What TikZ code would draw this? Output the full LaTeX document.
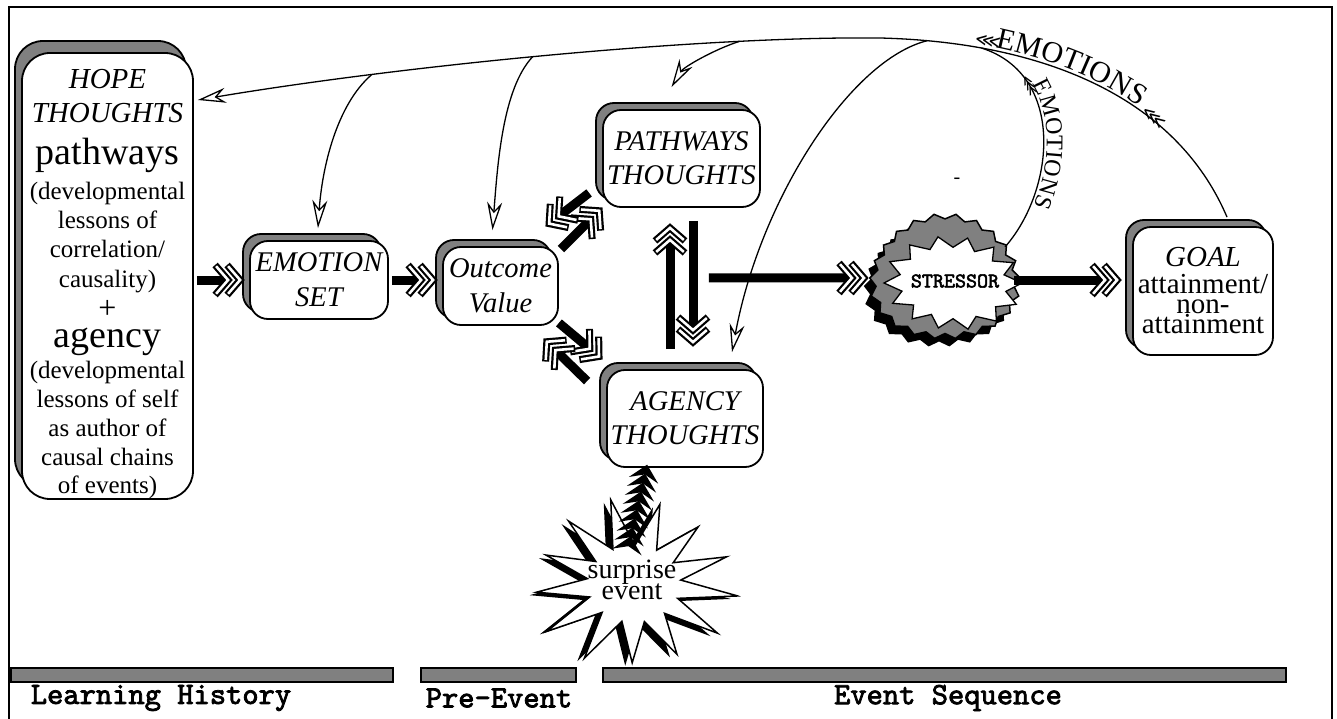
\documentclass[tikz,border=0pt]{standalone}
\usepackage{fontspec}
\usepackage{graphicx}
\setmainfont{Liberation Serif}
\newfontfamily\courb{lmmono10-regular.otf}[FakeBold=2.5]
\newfontfamily\dejavu{DejaVu Sans}
\usetikzlibrary{arrows.meta,shadows,decorations.text,decorations.markings,calc}
\definecolor{shadowgray}{RGB}{128,128,128}
\newcommand\fsz[2]{\fontsize{#1}{#2}\selectfont}
\newcommand\fathead{%
  \foreach \dx in {-16,-4}{%
    \draw[line width=7pt, black, shorten >=0pt, line join=miter, line cap=butt]
      ([xshift=\dx pt]-13pt,-15pt) -- ([xshift=\dx pt]0pt,0pt) -- ([xshift=\dx pt]-13pt,15pt);
    \draw[line width=2.6pt, white, shorten >=0pt, line join=miter, line cap=butt]
      ([xshift=\dx pt]-12pt,-13.8pt) -- ([xshift=\dx pt]0pt,0pt) -- ([xshift=\dx pt]-12pt,13.8pt);
  }}
\lineskiplimit=-100pt
\begin{document}
\begin{tikzpicture}[x=1pt,y=-1pt,
  boxbase/.style={draw=black, line width=1.8pt, fill=white, inner sep=0pt, align=center},
  shad/.style 2 args={copy shadow={shadow xshift=#1, shadow yshift=#2, fill=shadowgray, draw=black, line width=1.8pt}},
  box/.style={boxbase, rounded corners=18pt, shad={-7pt}{7pt}, font=\fsz{28.5}{34}\itshape},
  fatarr/.style={line width=9pt, shorten >=18pt,
    postaction={decorate, decoration={markings, mark=at position 1 with {\fathead}}}},
  thinarr/.style={line width=1.3pt, -{Stealth[open, length=28pt, width=15pt, inset=9pt]}},
  curve/.style={line width=1.3pt},
  barbox/.style={draw=black, line width=1.6pt, fill=shadowgray, inner sep=0pt, minimum height=14pt},
  lbl/.style={font=\courb\fsz{31}{31}, inner sep=0pt},
  hl/.style={inner sep=0pt, anchor=base},
  feather/.style={font=\dejavu\fsz{18}{18}, inner sep=0pt}]
\useasboundingbox (0,0) rectangle (1337,719);
\draw[line width=2pt] (9,7) rectangle (1332,735);

% ---------- boxes ----------
\node[boxbase, rounded corners=28pt, shad={-7pt}{12pt}, minimum width=171pt, minimum height=446pt] (hope) at (107.5,276) {};
\foreach \yy/\tt [count=\i] in {
  89/{\fsz{29}{29}\itshape HOPE},
  123/{\fsz{29}{29}\itshape THOUGHTS},
  165/{\fsz{38}{38}pathways},
  200/{\fsz{25}{25}(developmental},
  229/{\fsz{25}{25}lessons of},
  258/{\fsz{25}{25}correlation/},
  287/{\fsz{25}{25}causality)},
  318/{\fsz{32}{32}+},
  347/{\fsz{38}{38}agency},
  378/{\fsz{25}{25}(developmental},
  407/{\fsz{25}{25}lessons of self},
  436/{\fsz{25}{25}as author of},
  465/{\fsz{25}{25}causal chains},
  493/{\fsz{25}{25}of events)}}
  \node[hl] (hl\i) at (107.5,\yy) {\tt};

\node[box, font=\fsz{28.5}{35}\itshape, minimum width=138pt, minimum height=78pt] (emotion) at (319,280) {EMOTION\\SET};
\node[box, font=\fsz{28.5}{35}\itshape, minimum width=115pt, minimum height=78pt] (outcome) at (500.5,286) {Outcome\\Value};
\node[box, minimum width=157pt, minimum height=97pt] (pathways) at (681.5,158.5) {PATHWAYS\\THOUGHTS};
\node[box, minimum width=156pt, minimum height=97pt] (agency) at (685,418.5) {AGENCY\\THOUGHTS};
\node[box, font=\fsz{29}{20}, minimum width=140pt, minimum height=128pt] (goal) at (1203,291) {{\itshape GOAL}\\[7pt]attainment/\\non-\\attainment};

% ---------- stressor cloud ----------
\fill[black] plot[domain=0:360, samples=45] ({939+72*(1+0.045*cos(22*\x)+0.03*sin(3*\x))*cos(\x)}, {286+60*(1+0.045*cos(22*\x)+0.03*sin(3*\x))*sin(\x)}) -- cycle;
\filldraw[fill=shadowgray, draw=black, line width=1.5pt] plot[domain=0:360, samples=45] ({945+72*(1+0.045*cos(22*\x)+0.03*sin(3*\x))*cos(\x)}, {278+60*(1+0.045*cos(22*\x)+0.03*sin(3*\x))*sin(\x)}) -- cycle;
\filldraw[fill=white, draw=black, line width=1.3pt] plot[domain=0:360, samples=29] ({953+60*(1+0.13*cos(14*\x)+0.04*sin(2*\x+30))*cos(\x)}, {283+42*(1+0.13*cos(14*\x)+0.04*sin(2*\x+30))*sin(\x)}) -- cycle;
\node[font=\courb\fsz{21}{21}, inner sep=0pt] (stressor) at (955,281) {STRESSOR};
\coordinate (cloudW) at (868,278);
\coordinate (cloudE) at (1014,280);
\coordinate (cloudNE) at (1005,247);

% ---------- surprise starburst ----------
\fill[black] plot[domain=8:368, samples=27] ({627+100*(0.47+0.53*(1+cos(13*(\x-8)))/2*(1+0.1*sin(3*\x+40)))*cos(\x)}, {587+82*(0.47+0.53*(1+cos(13*(\x-8)))/2*(1+0.1*sin(3*\x+40)))*sin(\x)}) -- cycle;
\filldraw[fill=white, draw=black, line width=1.5pt] plot[domain=8:368, samples=27] ({634+100*(0.47+0.53*(1+cos(13*(\x-8)))/2*(1+0.1*sin(3*\x+40)))*cos(\x)}, {584+82*(0.47+0.53*(1+cos(13*(\x-8)))/2*(1+0.1*sin(3*\x+40)))*sin(\x)}) -- cycle;
\node[align=center, font=\fsz{28}{21}, inner sep=0pt] (surprise) at (632,580) {surprise\\event};
\begin{scope}[shift={(627,552)}, rotate=-13]
  \foreach \i in {0,...,8}{
    \fill ({-15},{-9.2*\i}) -- ({0},{-9.2*\i-16}) -- ({15},{-9.2*\i}) -- ({0},{-9.2*\i-6}) -- cycle;
  }
\end{scope}

% ---------- fat arrows ----------
\draw[fatarr] ([xshift=3pt]hope.east |- emotion.east) -- ($(emotion.west)+(-5,0)$);
\draw[fatarr] ([xshift=3pt]emotion.east) -- ($(emotion.east -| outcome.west)+(-5,0)$);
\draw[fatarr] ($(outcome.north east)+(2,3)$) -- (pathways.south west);
\draw[fatarr] ($(pathways.south west)+(-13,-15)$) -- ($(outcome.north east)+(-13,-20)$);
\draw[fatarr] ($(outcome.south east)+(0,-3)$) -- ($(agency.north west)+(-4,-10)$);
\draw[fatarr] ($(agency.north west)+(-19,12)$) -- ($(outcome.south east)+(-15,13)$);
\draw[fatarr] ($(agency.north)+(-15,-20)$) -- ($(pathways.south)+(-11.5,16)$);
\draw[fatarr] ($(pathways.south)+(11.5,13)$) -- ($(agency.north)+(8,-23)$);
\draw[fatarr] ($(pathways.south east)+(-52,70)$) -- (cloudW);
\draw[fatarr] (cloudE) -- ($(goal.west)+(-11,-11)$);

% ---------- thin curved arrows ----------
\draw[thinarr] ($(goal.north)+(24,-9)$) .. controls (1175,95) and (1040,42) .. coordinate[pos=0.78] (sB) coordinate[pos=0.9] (aB) (880,38)
   .. controls (700,36) and (400,66) .. coordinate[pos=0.23] (pB) coordinate[pos=0.52] (oB) coordinate[pos=0.74] (eB) ($(hope.east)+(4,-176)$);
\draw[thinarr] (eB) .. controls +(-35,30) and +(4,-60) .. ($(emotion.north)+(-1,-12)$);
\draw[thinarr] (oB) .. controls +(-30,32) and +(5,-65) .. ($(outcome.north)+(-8,-16)$);
\draw[thinarr] (pB) .. controls +(-25,8) and +(12,-20) .. ($(pathways.north)+(-10,-22)$);
\draw[thinarr] (aB) .. controls (850,60) and (760,200) .. ($(agency.north)+(47,-17)$);
\draw[curve] (cloudNE) .. controls (1055,190) and (1066,75) .. (sB);

% ---------- EMOTIONS labels ----------
\path[decorate, decoration={text along path, text={|\fsz{30}{30}|EMOTIONS}, text align={left indent=116pt}, raise=3pt}]
   (880,38) .. controls (1040,42) and (1175,95) .. (1227,218);
\path[decorate, decoration={text along path, text={|\fsz{24}{24}|EMOTIONS}, text align={left indent=62pt}, raise=3pt}]
   (sB) .. controls (1066,75) and (1055,190) .. (cloudNE);
\node[feather, rotate=-10] (fe1) at (988,41) {⋘};
\node[feather, rotate=-40] (fe2) at (1154,118) {⋘};
\node[feather, font=\dejavu\fsz{15}{15}, rotate=-62] (fe3) at (1030,86) {⋘};
\node[font=\fsz{20}{20}, inner sep=0pt] (dash) at (957,181) {-};

% ---------- timeline bars ----------
\node[barbox, minimum width=382pt] (barLH) at (202,675) {};
\node[barbox, minimum width=155pt] (barPE) at (498.5,675) {};
\node[barbox, minimum width=683pt] (barES) at (944.5,675) {};
\node[lbl] (tLH) at (161,698) {Learning History};
\node[lbl] (tPE) at (499,698) {Pre-Event};
\node[lbl] (tES) at (948,698) {Event Sequence};
\end{tikzpicture}
\end{document}
